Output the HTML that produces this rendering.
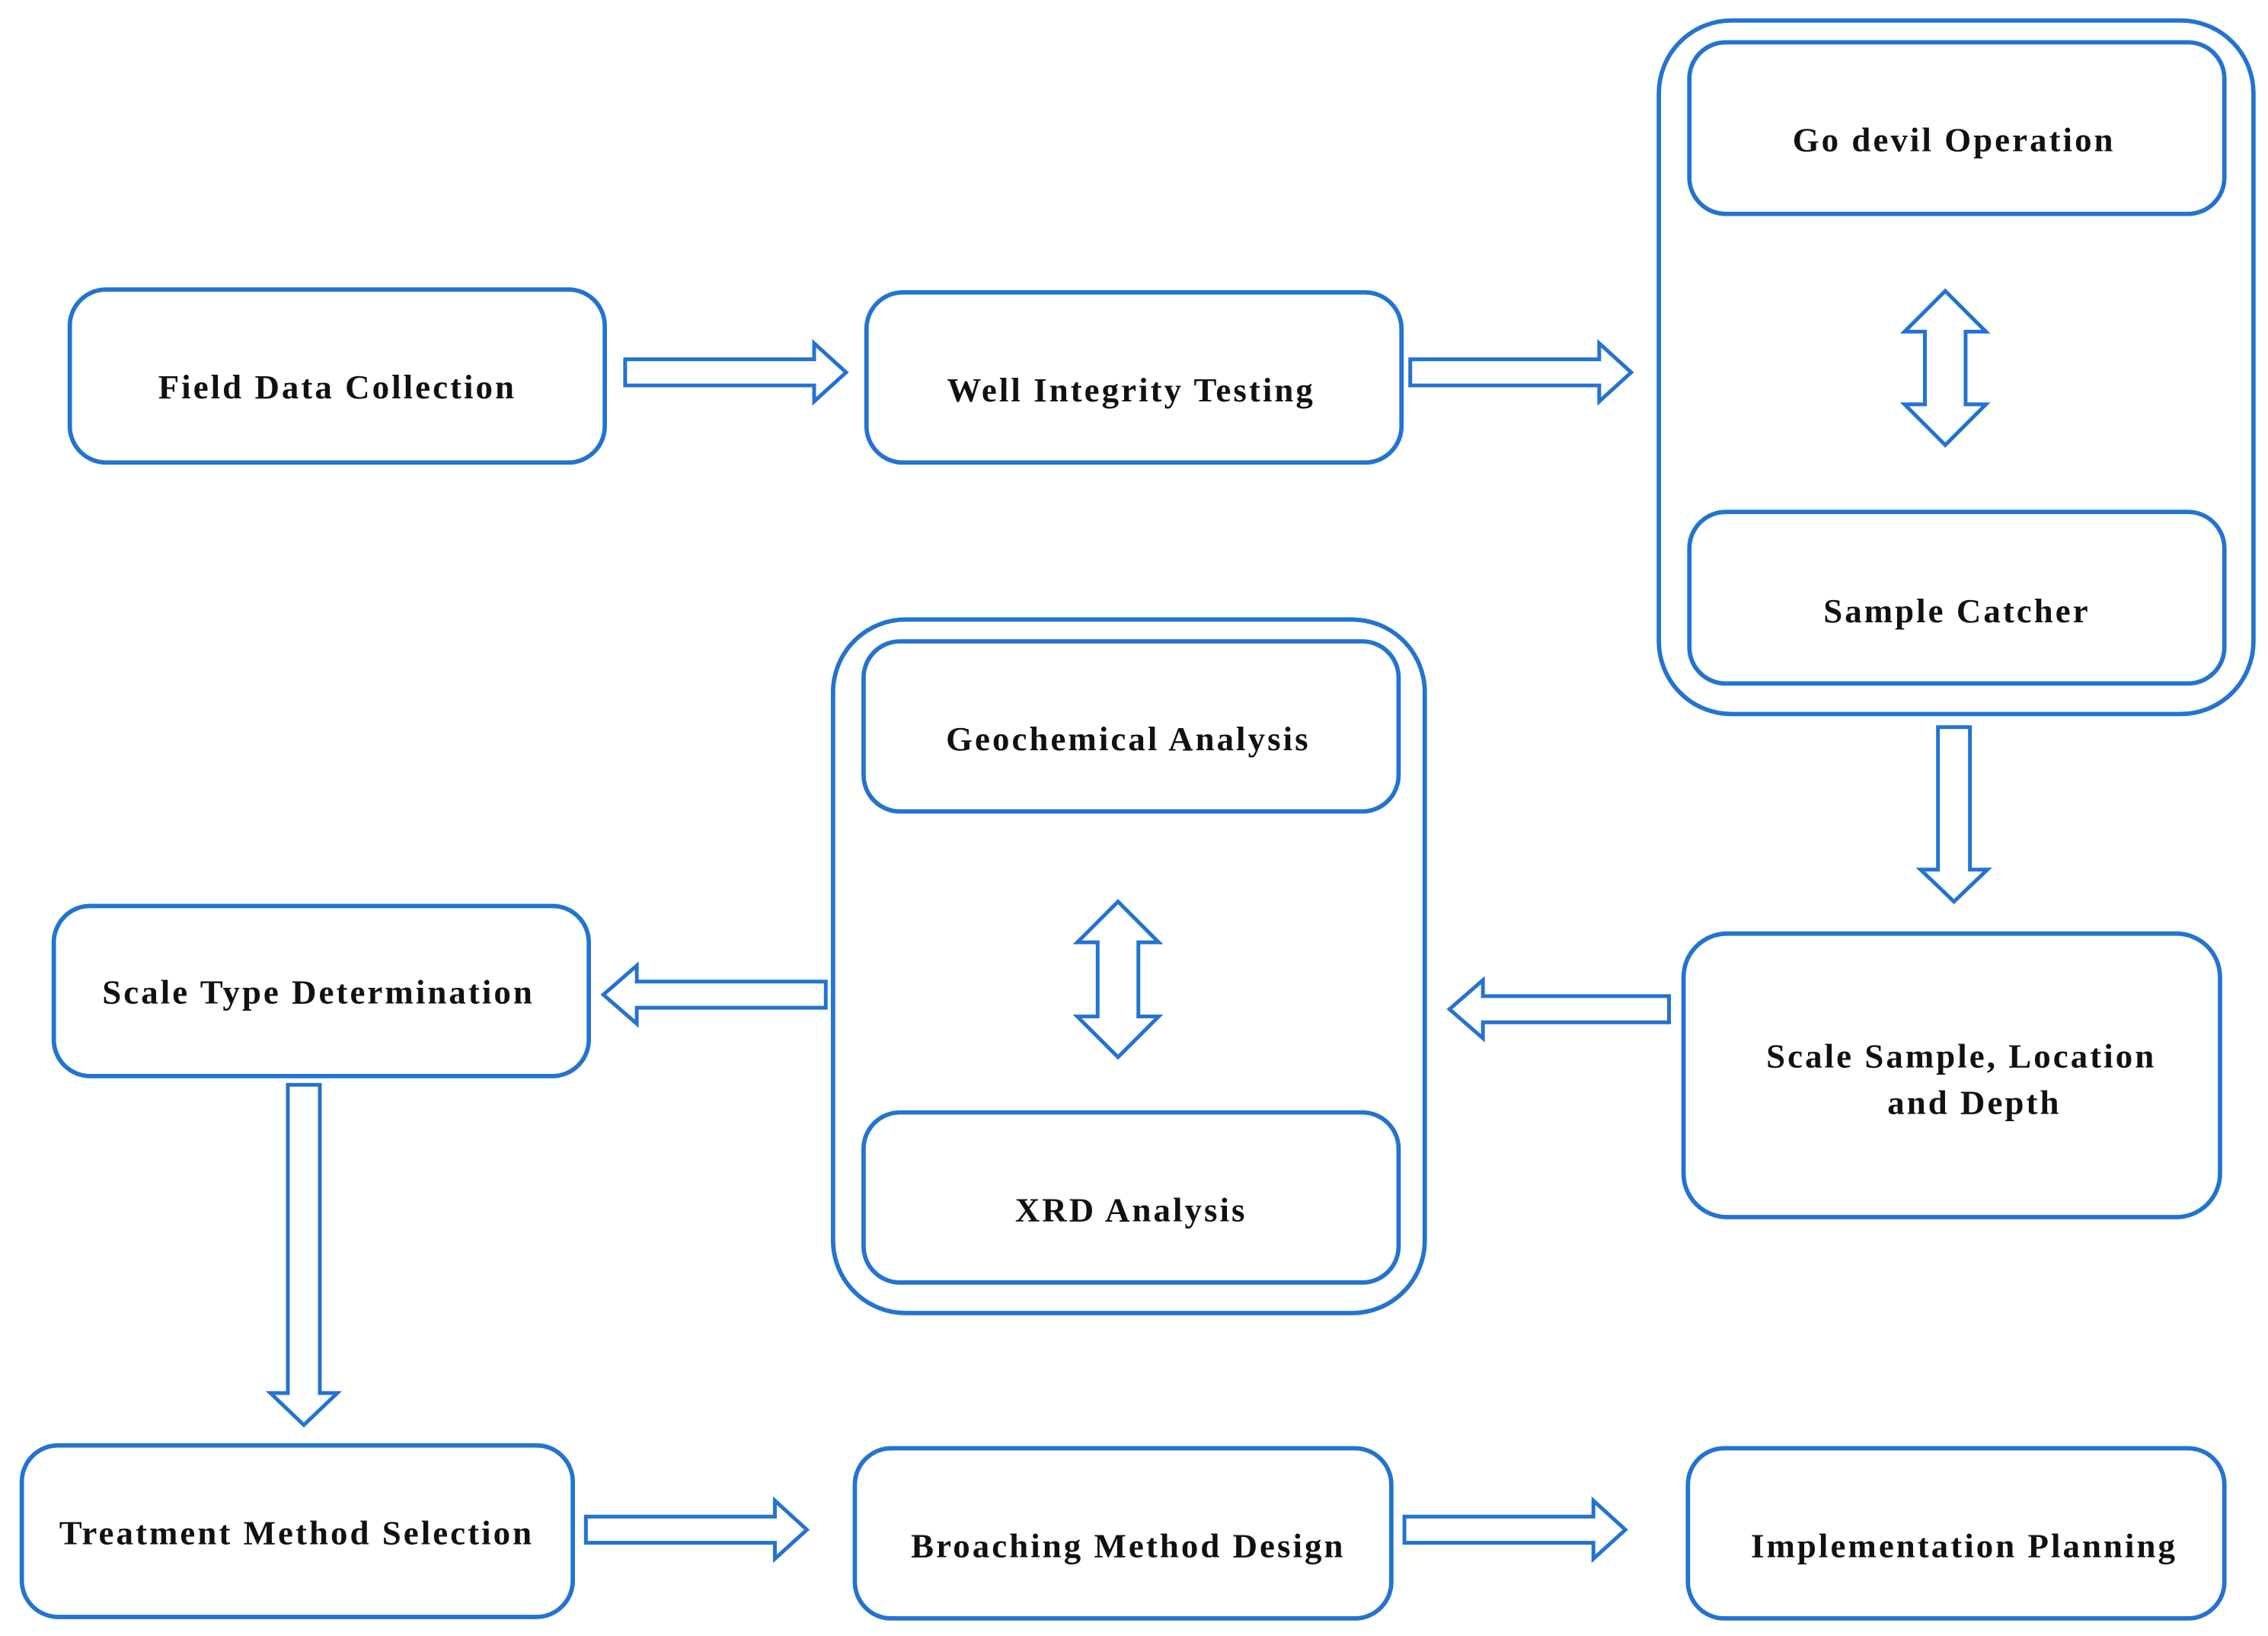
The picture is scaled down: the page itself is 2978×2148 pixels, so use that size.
<!DOCTYPE html>
<html><head><meta charset="utf-8"><style>
html,body{margin:0;padding:0;background:#fff;}
svg{display:block;}
text{font-family:"Liberation Serif",serif;font-weight:bold;font-size:23.5px;fill:#111;text-anchor:middle;letter-spacing:1.6px;}
.b{fill:none;stroke:#2373d1;stroke-width:3;}
.a{fill:#fff;stroke:#2373d1;stroke-width:2.6;stroke-linejoin:miter;}
</style></head><body>
<svg width="2978" height="2148" viewBox="0 0 1560 1125" xmlns="http://www.w3.org/2000/svg">
<rect width="1560" height="1125" fill="#fff"/>
<rect class="b" x="1141" y="14" width="409" height="477" rx="50"/>
<rect class="b" x="573" y="426" width="407" height="477" rx="50"/>
<rect class="b" x="48" y="199" width="368" height="119" rx="25"/>
<rect class="b" x="596" y="201" width="368" height="117" rx="25"/>
<rect class="b" x="1162" y="29" width="368" height="118" rx="25"/>
<rect class="b" x="1162" y="352" width="368" height="118" rx="25"/>
<rect class="b" x="594" y="441" width="368" height="117" rx="25"/>
<rect class="b" x="594" y="765" width="368" height="117" rx="25"/>
<rect class="b" x="1158" y="642" width="369" height="195" rx="30"/>
<rect class="b" x="37" y="623" width="368" height="117" rx="25"/>
<rect class="b" x="15" y="994" width="379" height="118" rx="25"/>
<rect class="b" x="588" y="996" width="369" height="117" rx="25"/>
<rect class="b" x="1161" y="996" width="369" height="117" rx="25"/>
<polygon class="a" points="430,247 560,247 560,236 582,256 560,276 560,265 430,265"/>
<polygon class="a" points="970,247 1100,247 1100,236 1122,256 1100,276 1100,265 970,265"/>
<polygon class="a" points="403,1043 533,1043 533,1032 555,1052 533,1072 533,1061 403,1061"/>
<polygon class="a" points="966,1043 1096,1043 1096,1032 1118,1052 1096,1072 1096,1061 966,1061"/>
<polygon class="a" points="568,675 438,675 438,664 415,684 438,704 438,693 568,693"/>
<polygon class="a" points="1148,685 1020,685 1020,674 997,694 1020,714 1020,703 1148,703"/>
<polygon class="a" points="1333,500 1355,500 1355,598 1367,598 1344,620 1321,598 1333,598"/>
<polygon class="a" points="198,746 220,746 220,958 232,958 209,980 186,958 198,958"/>
<polygon class="a" points="1338,200 1366,228 1352,228 1352,278 1366,278 1338,306 1310,278 1324,278 1324,228 1310,228"/>
<polygon class="a" points="769,620 797,648 783,648 783,699 797,699 769,727 741,699 755,699 755,648 741,648"/>
<text x="232" y="274">Field Data Collection</text>
<text x="778" y="276">Well Integrity Testing</text>
<text x="1344" y="104">Go devil Operation</text>
<text x="1346" y="428">Sample Catcher</text>
<text x="776" y="516">Geochemical Analysis</text>
<text x="778" y="840">XRD Analysis</text>
<text x="1349" y="734">Scale Sample, Location</text>
<text x="1358" y="766">and Depth</text>
<text x="219" y="690">Scale Type Determination</text>
<text x="204" y="1062">Treatment Method Selection</text>
<text x="776" y="1071">Broaching Method Design</text>
<text x="1351" y="1071">Implementation Planning</text>
</svg>
</body></html>
